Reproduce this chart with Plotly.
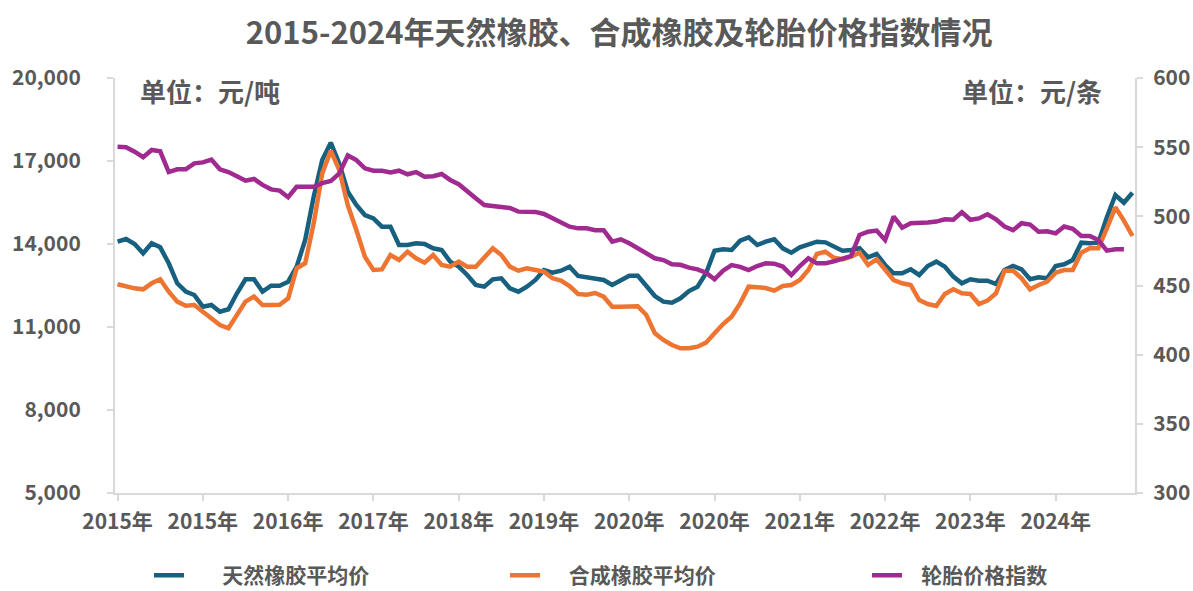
import plotly.graph_objects as go

# 2015-01 .. 2024-12, monthly
months = [f"{y}-{m:02d}" for y in range(2015, 2025) for m in range(1, 13)]

tick_labels = ["2015年", "2015年", "2016年", "2017年", "2018年", "2019年",
               "2020年", "2020年", "2021年", "2022年", "2023年", "2024年"]

# 天然橡胶平均价 (元/吨)
natural_rubber = [
    14084, 14180, 14000, 13663, 14025, 13880, 13302, 12580, 12277, 12157,
    11734, 11795, 11553, 11640, 12218, 12724, 12724, 12277, 12493, 12493,
    12638, 13180, 14145, 15710, 17036, 17662, 16900, 15890, 15410, 15048,
    14928, 14627, 14627, 13964, 13964, 14025, 14000, 13844, 13783, 13362,
    13181, 12880, 12518, 12458, 12724, 12760, 12398, 12277, 12458, 12699,
    13060, 12964, 13036, 13181, 12843, 12782, 12760, 12699, 12518, 12699,
    12855, 12855, 12482, 12120, 11916, 11880, 12037, 12301, 12458, 12940,
    13759, 13808, 13783, 14121, 14241, 13964, 14084, 14169, 13844, 13687,
    13880, 14000, 14084, 14060, 13904, 13759, 13783, 13844, 13519, 13638,
    13241, 12940, 12940, 13085, 12880, 13205, 13362, 13181, 12820, 12580,
    12724, 12675, 12675, 12554, 13060, 13205, 13085, 12724, 12796, 12760,
    13205, 13266, 13422, 14048, 14024, 14048, 14965, 15771, 15494, 15855,
]

# 合成橡胶平均价 (元/吨)
synthetic_rubber = [
    12543, 12458, 12398, 12362, 12580, 12724, 12277, 11916, 11771, 11795,
    11553, 11278, 11072, 10952, 11434, 11916, 12096, 11795, 11795, 11800,
    12037, 13121, 13302, 14747, 16554, 17373, 16675, 15400, 14506, 13542,
    13060, 13080, 13603, 13422, 13723, 13482, 13326, 13603, 13241, 13181,
    13362, 13181, 13181, 13542, 13844, 13603, 13181, 13036, 13121, 13060,
    13000, 12760, 12675, 12482, 12193, 12170, 12230, 12096, 11734, 11734,
    11750, 11750, 11434, 10772, 10530, 10349, 10229, 10229, 10289, 10434,
    10772, 11108, 11373, 11855, 12458, 12422, 12410, 12313, 12482, 12518,
    12699, 13060, 13638, 13723, 13500, 13446, 13542, 13687, 13241, 13446,
    13085, 12699, 12580, 12518, 11976, 11831, 11759, 12193, 12362, 12218,
    12193, 11831, 11952, 12218, 13036, 13036, 12760, 12362, 12518, 12638,
    12964, 13060, 13060, 13687, 13844, 13844, 14567, 15326, 14844, 14290,
]

# 轮胎价格指数 (元/条), last month not published
tire_index = [
    550.3, 550.0, 546.7, 542.7, 548.0, 547.0, 532.0, 534.0, 534.0, 538.3,
    539.0, 541.0, 534.0, 532.0, 529.0, 525.8, 527.0, 522.7, 519.5, 518.6,
    513.8, 521.4, 521.4, 521.4, 524.0, 525.5, 531.0, 544.0, 540.7, 534.7,
    533.0, 533.0, 531.8, 533.0, 530.4, 532.0, 528.7, 529.0, 530.6, 526.3,
    523.2, 517.8, 513.0, 508.2, 507.5, 506.3, 506.0, 503.4, 503.4, 503.2,
    501.7, 498.6, 495.4, 492.5, 491.3, 491.3, 490.0, 490.0, 481.7, 483.4,
    480.5, 476.9, 472.8, 469.7, 468.4, 465.3, 465.0, 462.9, 461.7, 459.3,
    454.5, 460.7, 464.8, 463.5, 461.2, 464.1, 466.0, 465.8, 463.7, 457.6,
    464.1, 469.7, 466.0, 466.0, 467.5, 469.0, 471.3, 486.5, 488.9, 489.7,
    482.9, 499.8, 491.8, 495.0, 495.0, 495.5, 496.2, 497.9, 497.5, 502.9,
    497.5, 498.5, 501.5, 497.9, 492.6, 490.0, 495.0, 494.0, 488.9, 489.2,
    487.7, 492.6, 491.0, 485.8, 485.8, 482.9, 475.2, 476.2, 476.2, None,
]

x = list(range(len(months)))
FONT = "Noto Sans CJK SC"
GREY = "#595959"
AXIS = "#D9D9D9"
NB = "\u00a0"  # spacer between legend line and text

fig = go.Figure()
fig.add_trace(go.Scatter(x=x, y=natural_rubber, name=NB * 7 + "天然橡胶平均价", mode="lines",
                         line=dict(color="#17607F", width=4.5), customdata=months,
                         legend="legend"))
fig.add_trace(go.Scatter(x=x, y=synthetic_rubber, name=NB * 5 + "合成橡胶平均价", mode="lines",
                         line=dict(color="#ED7531", width=4.5), customdata=months,
                         legend="legend2"))
fig.add_trace(go.Scatter(x=x, y=tire_index, name=NB * 3 + "轮胎价格指数", mode="lines", yaxis="y2",
                         line=dict(color="#A02A90", width=4.5), customdata=months,
                         legend="legend3"))

axis_common = dict(showgrid=False, zeroline=False, showline=True, linecolor=AXIS,
                   linewidth=2, ticks="outside", ticklen=6, tickcolor=AXIS, tickwidth=2,
                   automargin=False)


def legend_at(px):
    return dict(orientation="h", xref="container", yref="container",
                x=px / 1193, xanchor="left", y=0.026, yanchor="middle",
                font=dict(size=21, color=GREY, weight="bold"),
                bgcolor="rgba(0,0,0,0)")


fig.update_layout(
    width=1193, height=591,
    margin=dict(l=115, r=58, t=78, b=98),
    paper_bgcolor="white", plot_bgcolor="white",
    font=dict(family=FONT, color=GREY),
    title=dict(text="2015-2024年天然橡胶、合成橡胶及轮胎价格指数情况",
               x=0.519, xref="container", xanchor="center",
               y=1 - 33 / 591, yanchor="middle",
               font=dict(size=31, color=GREY, weight="bold")),
    xaxis=dict(range=[-0.3, 119.3], tickvals=x[::10], ticktext=tick_labels,
               ticklabelstandoff=3,
               tickfont=dict(size=21, color=GREY, weight="bold"), **axis_common),
    yaxis=dict(range=[5000, 20000], tickvals=[5000, 8000, 11000, 14000, 17000, 20000],
               tickformat=",d", ticklabelstandoff=22,
               tickfont=dict(size=21, color=GREY, weight="bold"), **axis_common),
    yaxis2=dict(range=[300, 600], tickvals=[300, 350, 400, 450, 500, 550, 600],
                overlaying="y", side="right", ticklabelstandoff=6,
                tickfont=dict(size=21, color=GREY, weight="bold"), **axis_common),
    legend=legend_at(149),
    legend2=legend_at(505),
    legend3=legend_at(867),
    showlegend=True,
    annotations=[
        dict(text="单位：元/吨", xref="paper", yref="paper", x=0.0225, y=0.971,
             xanchor="left", yanchor="middle", showarrow=False,
             font=dict(size=26, color=GREY, weight="bold")),
        dict(text="单位：元/条", xref="paper", yref="paper", x=0.97, y=0.971,
             xanchor="right", yanchor="middle", showarrow=False,
             font=dict(size=26, color=GREY, weight="bold")),
    ],
)

# drop the default 8px body margin so the figure sits at the page origin
fig.write_html("out.html", config={"displayModeBar": False},
               post_script="document.body.style.margin = '0';")
